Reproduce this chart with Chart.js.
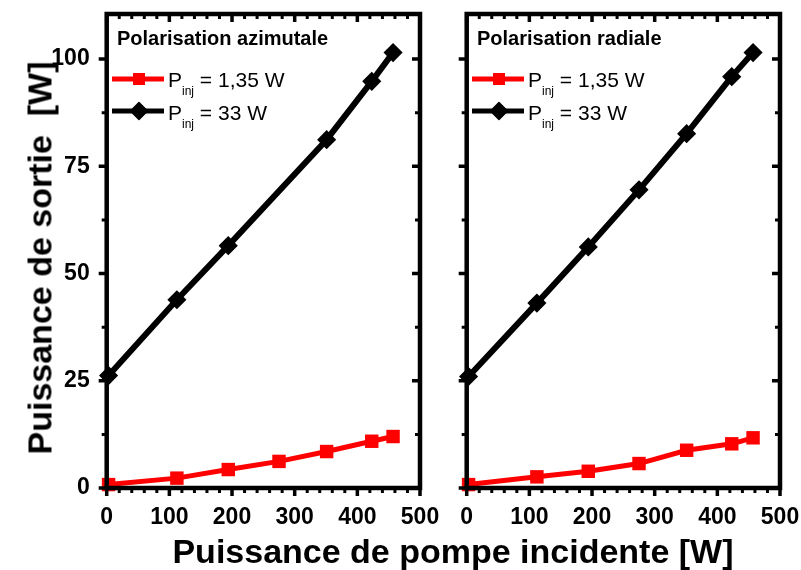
<!DOCTYPE html>
<html>
<head>
<meta charset="utf-8">
<script src="https://cdn.jsdelivr.net/npm/chart.js@4/dist/chart.umd.min.js"></script>
<style>
  body { margin: 0; background: #fff; }
  #wrap { position: relative; width: 801px; height: 570px; overflow: hidden; font-family: 'Liberation Sans', Arial, sans-serif; color: #000; }
  canvas { position: absolute; left: 0; top: 0; }
  .titre-y { position: absolute; left: 40px; top: 258px; transform: translate(-50%, -50%) rotate(-90deg);
             font-size: 34px; font-weight: bold; white-space: pre; line-height: 35px; }
  .titre-x { position: absolute; left: 0; width: 906px; top: 535px; text-align: center;
             font-size: 34px; font-weight: bold; line-height: 33px; white-space: pre; }
  .pol { position: absolute; top: 28px; font-size: 20px; font-weight: bold; line-height: 20px; white-space: pre; }
  .leg { position: absolute; font-size: 21px; line-height: 21px; white-space: pre; }
  .leg sub { font-size: 12px; vertical-align: -8px; line-height: 0; }
  .sym { position: absolute; width: 52px; height: 24px; }
</style>
</head>
<body>
<div id="wrap">
  <canvas id="gauche" width="801" height="570"></canvas>
  <canvas id="droite" width="801" height="570"></canvas>

  <div class="titre-y">Puissance de sortie  [W]</div>
  <div class="titre-x">Puissance de pompe incidente [W]</div>

  <div class="pol" style="left:117px">Polarisation azimutale</div>
  <svg class="sym" style="left:112px;top:67px" viewBox="0 0 52 24"><line x1="0" y1="12" x2="52" y2="12" stroke="#ff0000" stroke-width="5"/><rect x="21" y="6" width="12" height="12" fill="#ff0000"/></svg>
  <div class="leg" style="left:168px;top:69px">P<sub>inj</sub> = 1,35 W</div>
  <svg class="sym" style="left:112px;top:99px" viewBox="0 0 52 24"><line x1="0" y1="12" x2="52" y2="12" stroke="#000" stroke-width="5"/><polygon points="27,3.5 35.5,12 27,20.5 18.5,12" fill="#000" stroke="#000" stroke-width="1.5" stroke-linejoin="round"/></svg>
  <div class="leg" style="left:168px;top:101.5px">P<sub>inj</sub> = 33 W</div>

  <div class="pol" style="left:477px">Polarisation radiale</div>
  <svg class="sym" style="left:472px;top:67px" viewBox="0 0 52 24"><line x1="0" y1="12" x2="52" y2="12" stroke="#ff0000" stroke-width="5"/><rect x="21" y="6" width="12" height="12" fill="#ff0000"/></svg>
  <div class="leg" style="left:528px;top:69px">P<sub>inj</sub> = 1,35 W</div>
  <svg class="sym" style="left:472px;top:99px" viewBox="0 0 52 24"><line x1="0" y1="12" x2="52" y2="12" stroke="#000" stroke-width="5"/><polygon points="27,3.5 35.5,12 27,20.5 18.5,12" fill="#000" stroke="#000" stroke-width="1.5" stroke-linejoin="round"/></svg>
  <div class="leg" style="left:528px;top:101.5px">P<sub>inj</sub> = 33 W</div>
</div>

<script>
// ── DONNÉES ──────────────────────────────────────────────────────────────────
const pompe      = [3, 112, 194, 275, 351, 423, 457];
const pompeAziN  = [3, 112, 194, 351, 423, 457];          // pas de point à 275 W
const aziRouge   = [0.8, 2.3, 4.3, 6.2, 8.5, 10.9, 12.0];   // P_inj = 1,35 W
const aziNoir    = [26.2, 43.9, 56.5, 81.2, 94.8, 101.5];  // P_inj = 33 W
const radRouge   = [0.8, 2.6, 3.9, 5.7, 8.8, 10.3, 11.7];
const radNoir    = [26.0, 43.1, 56.2, 69.5, 82.6, 95.9, 101.5];

const xTicks = [0, 100, 200, 300, 400, 500];
const yTicks = [0, 25, 50, 75, 100];
const X_MIN = 0, X_MAX = 500, X_MINOR = 20, X_MAJOR = 100;
const Y_MIN = 0, Y_MAX = 110.5, Y_MINOR = 12.5, Y_MAJOR = 25;

const pts = (xs, ys) => xs.map((x, i) => ({ x, y: ys[i] }));

// ── CADRE + GRADUATIONS ──────────────────────────────────────────────────────
const cadre = {
  id: 'cadre',
  afterDraw(chart) {
    const { ctx, chartArea: a, scales: { x, y } } = chart;
    ctx.save();
    ctx.strokeStyle = '#000';
    for (let v = X_MIN; v <= X_MAX; v += X_MINOR) {
      const px = x.getPixelForValue(v);
      const maj = v % X_MAJOR === 0;
      const len = maj ? 8 : 5;
      ctx.lineWidth = maj ? 3.5 : 3;
      ctx.beginPath();
      ctx.moveTo(px, a.bottom); ctx.lineTo(px, a.bottom + len);
      ctx.moveTo(px, a.top);    ctx.lineTo(px, a.top + len);
      ctx.stroke();
    }
    for (let v = Y_MIN; v <= Y_MAX; v += Y_MINOR) {
      const py = y.getPixelForValue(v);
      const maj = v % Y_MAJOR === 0;
      const len = maj ? 8 : 5;
      ctx.lineWidth = maj ? 3.5 : 3;
      ctx.beginPath();
      ctx.moveTo(a.left, py);  ctx.lineTo(a.left - len, py);
      ctx.moveTo(a.right, py); ctx.lineTo(a.right - len, py);
      ctx.stroke();
    }
    ctx.lineWidth = 4.5;
    ctx.strokeRect(a.left, a.top, a.right - a.left, a.bottom - a.top);
    ctx.restore();
  }
};

function panneau(id, rouge, noirX, noir, padLeft, padRight, axeLargeur, etiquettesY) {
  return new Chart(document.getElementById(id), {
    type: 'scatter',
    data: {
      datasets: [
        { data: pts(pompe, rouge), showLine: true, borderColor: '#ff0000', backgroundColor: '#ff0000',
          borderWidth: 5, pointStyle: 'rect', pointRadius: 9.5, pointBorderWidth: 0, clip: false },
        { data: pts(noirX, noir), showLine: true, borderColor: '#000', backgroundColor: '#000',
          borderWidth: 6, pointStyle: 'rectRot', pointRadius: 8.5, pointBorderWidth: 1.5, clip: false },
      ]
    },
    options: {
      responsive: false, animation: false, events: [],
      layout: { padding: { left: padLeft, right: padRight, top: 14, bottom: 0 } },
      plugins: { legend: { display: false }, tooltip: { enabled: false } },
      scales: {
        x: {
          type: 'linear', min: X_MIN, max: X_MAX,
          grid: { display: false }, border: { display: false },
          afterBuildTicks: s => { s.ticks = xTicks.map(v => ({ value: v })); },
          ticks: { color: '#000', padding: 8, maxRotation: 0, autoSkip: false,
                   font: { family: "'Liberation Sans', Arial, sans-serif", size: 23, weight: 'bold' } },
          afterFit: s => { s.height = 82; s.paddingLeft = 0; s.paddingRight = 0; }
        },
        y: {
          type: 'linear', min: Y_MIN, max: Y_MAX,
          grid: { display: false }, border: { display: false },
          afterBuildTicks: s => { s.ticks = yTicks.map(v => ({ value: v })); },
          ticks: { display: etiquettesY, color: '#000', padding: 9,
                   font: { family: "'Liberation Sans', Arial, sans-serif", size: 23, weight: 'bold' } },
          afterFit: s => { s.width = axeLargeur; s.paddingTop = 0; s.paddingBottom = 0; }
        }
      }
    },
    plugins: [cadre]
  });
}

panneau('gauche', aziRouge, pompeAziN, aziNoir, 0, 381, 106.7, true);
panneau('droite', radRouge, pompe, radNoir, 440, 21, 26.7, false);
</script>
</body>
</html>
